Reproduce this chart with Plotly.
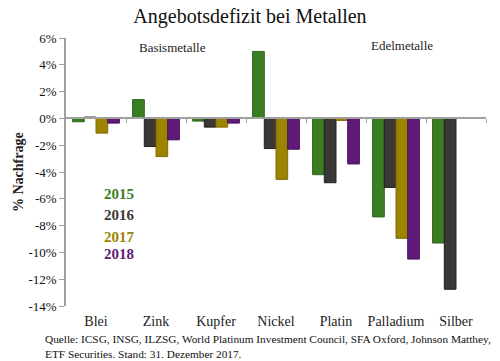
import plotly.graph_objects as go

categories = ["Blei", "Zink", "Kupfer", "Nickel", "Platin", "Palladium", "Silber"]
years = ["2015", "2016", "2017", "2018"]
v2015 = [-0.25, 1.4, -0.2, 5.0, -4.2, -7.35, -9.3]
v2016 = [0.1, -2.1, -0.65, -2.25, -4.8, -5.15, -12.75]
v2017 = [-1.1, -2.85, -0.65, -4.55, -0.15, -8.95, None]
v2018 = [-0.35, -1.6, -0.35, -2.3, -3.4, -10.5, None]
series = [v2015, v2016, v2017, v2018]
colors = ["#3b7d23", "#3a3835", "#9c8400", "#5f1a78"]
edge = ["#2c6618", "#222020", "#7f6b00", "#4a115f"]
yticks = [6, 4, 2, 0, -2, -4, -6, -8, -10, -12, -14]
ytext = [f"{v}%" for v in yticks]

FONT = "Liberation Serif, serif"

fig = go.Figure()
for name, vals, c, e in zip(years, series, colors, edge):
    fig.add_trace(go.Bar(x=categories, y=vals, name=name, marker=dict(color=c, line=dict(color=e, width=1)),
                         showlegend=False))

# helper trace to draw the zero-line axis with category boundary ticks
fig.add_trace(go.Scatter(x=[-0.5, 6.5], y=[0, 0], xaxis="x2", mode="lines",
                         line=dict(color="rgba(0,0,0,0)"), showlegend=False, hoverinfo="skip"))

fig.update_layout(
    width=500, height=361,
    margin=dict(l=66, r=14, t=38, b=55),
    paper_bgcolor="white", plot_bgcolor="white",
    barmode="group", bargap=0.22, bargroupgap=0,
    font=dict(family=FONT, color="#222"),
    title=dict(text="Angebotsdefizit bei Metallen", x=0.5, xanchor="center", y=1 - 16 / 361, yanchor="middle",
               font=dict(size=20, family=FONT, color="#111")),
    xaxis=dict(showline=False, ticks="", showgrid=False, zeroline=False,
               tickfont=dict(size=14, family=FONT, color="#222"), ticklabelstandoff=5),
    xaxis2=dict(overlaying="x", anchor="free", position=0.7, range=[-0.5, 6.5],
                showline=True, linecolor="#a0a0a0", linewidth=1.5,
                tickmode="array", tickvals=[0.5, 1.5, 2.5, 3.5, 4.5, 5.5, 6.5],
                ticks="outside", ticklen=4, tickcolor="#a0a0a0", showticklabels=False,
                showgrid=False, zeroline=False),
    yaxis=dict(range=[-14, 6], tickvals=yticks, ticktext=ytext, showgrid=False, zeroline=False,
               showline=True, linecolor="#a0a0a0", linewidth=1.5, ticks="outside", ticklen=5,
               tickcolor="#a0a0a0", tickfont=dict(size=13, family=FONT, color="#111")),
)

ann = [
    dict(text="Basismetalle", x=(172 - 66) / 420, y=(306 - 47) / 268, font=dict(size=13)),
    dict(text="Edelmetalle", x=(402 - 66) / 420, y=(306 - 46) / 268, font=dict(size=13)),
    dict(text="<b>% Nachfrage</b>", x=(18 - 66) / 420, y=0.5, textangle=-90, font=dict(size=14)),
]
for yr, c, py in zip(years, colors, [194, 215, 237, 254]):
    ann.append(dict(text=f"<b>{yr}</b>", x=(119 - 66) / 420, y=(306 - py) / 268, font=dict(size=15, color=c)))
ann.append(dict(text="Quelle: ICSG, INSG, ILZSG, World Platinum Investment Council, SFA Oxford, Johnson Matthey,<br>ETF Securities. Stand: 31. Dezember 2017.",
                x=(43 - 66) / 420, y=(306 - 331) / 268, xanchor="left", yanchor="top", align="left",
                font=dict(size=11.3, color="#111")))
for a in ann:
    a.setdefault("xref", "paper")
    a.setdefault("yref", "paper")
    a.setdefault("showarrow", False)
    a.setdefault("xanchor", "center")
    a.setdefault("yanchor", "middle")
    fig.add_annotation(**a)

fig.write_html("out.html", config={"displayModeBar": False},
               post_script="document.body.style.margin='0';document.body.style.padding='0';")
